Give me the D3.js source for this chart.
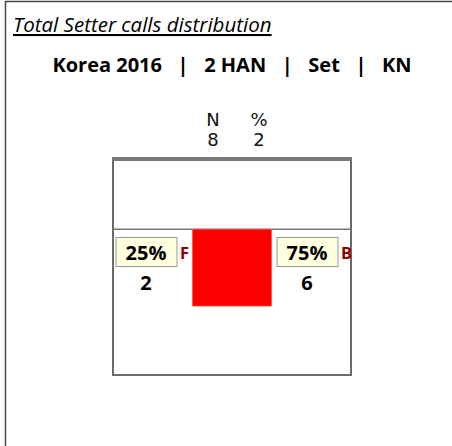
<!DOCTYPE html>
<html>
<head>
<meta charset="utf-8">
<script src="https://cdn.jsdelivr.net/npm/d3@7"></script>
<style>
  html, body { margin: 0; padding: 0; background: #fff; }
  svg { display: block; }
</style>
</head>
<body>
<script>
// Setter call distribution: front / back split for one setter.
const chartTitle = "Total Setter calls distribution";
const subtitleParts = ["Korea 2016", "2 HAN", "Set", "KN"];
const headerLabels = ["N", "%"];
const headerValues = [8, 2];
const zoneKeys = ["F", "B"];
const zoneCounts = [2, 6];
const zonePercents = [25, 75];
// Highlighted court cell in metres: [x0, x1, y0, y1] (net at y = 0)
const cellCols = [3, 6];
const cellRows = [0, 2.9];
const cellColor = "red";

const W = 452, H = 446;
const svg = d3.select("body").append("svg").attr("width", W).attr("height", H);

// outer frame
svg.append("path")
  .attr("d", "M5.5,460 V1.5 H460")
  .attr("fill", "none").attr("stroke", "#444").attr("stroke-width", 1.5);

svg.append("text")
  .attr("x", 13).attr("y", 32)
  .attr("font-family", "Open Sans, sans-serif")
  .attr("font-size", 20.5).attr("font-style", "italic")
  .attr("text-decoration", "underline")
  .attr("fill", "#000")
  .text(chartTitle);

svg.append("text")
  .attr("x", 232).attr("y", 72)
  .attr("text-anchor", "middle")
  .attr("font-family", "Open Sans, sans-serif")
  .attr("font-size", 20).attr("font-weight", "bold")
  .style("white-space", "pre")
  .text(subtitleParts.join("   |   "));

// header N / %
const headX = d3.scalePoint().domain(headerLabels).range([213, 259]);
headerLabels.forEach((lab, i) => {
  const g = svg.append("g").attr("font-family", "DejaVu Sans, sans-serif")
    .attr("font-size", 18).attr("text-anchor", "middle").attr("fill", "#111");
  g.append("text").attr("x", headX(lab)).attr("y", 126).text(lab);
  g.append("text").attr("x", headX(lab)).attr("y", 146).text(headerValues[i]);
});

// court scales (metres)
const x = d3.scaleLinear().domain([0, 9]).range([113, 351]);
const y = d3.scaleLinear().domain([-2.65, 5.5]).range([159, 375]);

// box
svg.append("rect")
  .attr("x", x(0)).attr("y", y(-2.65))
  .attr("width", x(9) - x(0)).attr("height", y(5.5) - y(-2.65))
  .attr("fill", "#fff").attr("stroke", "#6a6a6a").attr("stroke-width", 2);
svg.append("rect")
  .attr("x", x(0) - 1).attr("y", y(-2.65) - 2)
  .attr("width", x(9) - x(0) + 2).attr("height", 4)
  .attr("fill", "#7a7a7a");

// net line
svg.append("line")
  .attr("x1", x(0)).attr("x2", x(9)).attr("y1", y(0)).attr("y2", y(0))
  .attr("stroke", "#777").attr("stroke-width", 1.5);

// highlighted cell
svg.append("rect")
  .attr("x", x(cellCols[0])).attr("y", y(cellRows[0]))
  .attr("width", x(cellCols[1]) - x(cellCols[0]))
  .attr("height", y(cellRows[1]) - y(cellRows[0]))
  .attr("fill", cellColor).attr("stroke", "#ff6666").attr("stroke-width", 0.6);

// zone labels
const zoneX = d3.scalePoint().domain(zoneKeys).range([146, 307]);
zoneKeys.forEach((k, i) => {
  const cx = zoneX(k);
  svg.append("rect")
    .attr("x", cx - 30).attr("y", 237.5)
    .attr("width", 61).attr("height", 29)
    .attr("fill", "#ffffe0").attr("stroke", "#999").attr("stroke-width", 1);
  svg.append("text")
    .attr("x", cx).attr("y", 259.5)
    .attr("text-anchor", "middle")
    .attr("font-family", "Open Sans, sans-serif")
    .attr("font-size", 20).attr("font-weight", "bold").attr("fill", "#000")
    .text(zonePercents[i] + "%");
  svg.append("text")
    .attr("x", cx + 34).attr("y", 258.5)
    .attr("font-family", "Open Sans, sans-serif")
    .attr("font-size", 16.5).attr("font-weight", "bold").attr("fill", "#8b0000")
    .text(k);
  svg.append("text")
    .attr("x", cx).attr("y", 290)
    .attr("text-anchor", "middle")
    .attr("font-family", "Open Sans, sans-serif")
    .attr("font-size", 20).attr("font-weight", "bold").attr("fill", "#000")
    .text(zoneCounts[i]);
});
</script>
</body>
</html>
